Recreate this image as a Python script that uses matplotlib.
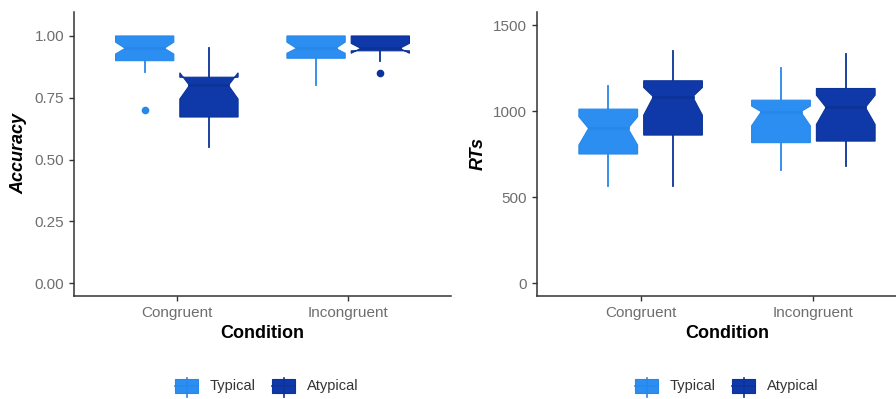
import numpy as np
import matplotlib.pyplot as plt
from matplotlib.patches import Polygon, Rectangle

plt.rcParams['font.family'] = ['Liberation Sans', 'DejaVu Sans']

conditions = ['Congruent', 'Incongruent']
groups = ['Typical', 'Atypical']
fills = ['#2b8ef0', '#0f39a8']
edges = ['#2788ea', '#0c3399']

# accuracy: per group, per condition
acc_q1 = {'Typical': [0.90, 0.91], 'Atypical': [0.672, 0.94]}
acc_med = {'Typical': [0.95, 0.95], 'Atypical': [0.80, 0.95]}
acc_q3 = {'Typical': [1.00, 1.00], 'Atypical': [0.833, 1.00]}
acc_nlo = {'Typical': [0.927, 0.93], 'Atypical': [0.745, 0.93]}
acc_nhi = {'Typical': [0.975, 0.975], 'Atypical': [0.851, 0.97]}
acc_wlo = {'Typical': [0.855, 0.80], 'Atypical': [0.552, 0.90]}
acc_whi = {'Typical': [1.00, 1.00], 'Atypical': [0.95, 1.00]}
acc_out = {'Typical': [[0.70], []], 'Atypical': [[], [0.85]]}

# reaction times
rt_q1 = {'Typical': [751, 817], 'Atypical': [861, 826]}
rt_med = {'Typical': [900, 997], 'Atypical': [1084, 1022]}
rt_q3 = {'Typical': [1012, 1064], 'Atypical': [1177, 1132]}
rt_nlo = {'Typical': [803, 915], 'Atypical': [977, 923]}
rt_nhi = {'Typical': [968, 1030], 'Atypical': [1138, 1093]}
rt_wlo = {'Typical': [565, 658], 'Atypical': [565, 683]}
rt_whi = {'Typical': [1146, 1254], 'Atypical': [1349, 1330]}
rt_out = {'Typical': [[], []], 'Atypical': [[], []]}

W, H = 896, 399
fig = plt.figure(figsize=(W / 100, H / 100), dpi=100)

box_w = 0.34
notchwidth = 0.67


def notched_boxes(ax, q1, med, q3, nlo, nhi, wlo, whi, outl):
    for gi, g in enumerate(groups):
        for ci in range(len(conditions)):
            xc = ci + 1 + (gi - 0.5) * 0.375
            x0, x1 = xc - box_w / 2, xc + box_w / 2
            ind = (1 - notchwidth) * box_w / 2
            # whiskers
            ax.plot([xc, xc], [q3[g][ci], whi[g][ci]], color=edges[gi], lw=1.3, zorder=2)
            ax.plot([xc, xc], [wlo[g][ci], q1[g][ci]], color=edges[gi], lw=1.3, zorder=2)
            pts = [(x0, q3[g][ci]), (x0, nhi[g][ci]), (x0 + ind, med[g][ci]),
                   (x0, nlo[g][ci]), (x0, q1[g][ci]), (x1, q1[g][ci]),
                   (x1, nlo[g][ci]), (x1 - ind, med[g][ci]), (x1, nhi[g][ci]),
                   (x1, q3[g][ci])]
            ax.add_patch(Polygon(pts, closed=True, facecolor=fills[gi],
                                 edgecolor=edges[gi], lw=0.8, zorder=3))
            ax.plot([x0 + ind, x1 - ind], [med[g][ci]] * 2, color=edges[gi],
                    lw=2.0, zorder=4)
            for o in outl[g][ci]:
                ax.plot(xc, o, 'o', color=edges[gi], ms=5.5, mec='none', zorder=4)


def style(ax, ylabel, yticks, ylabels, ylim):
    ax.set_xlim(0.4, 2.6)
    ax.set_ylim(*ylim)
    ax.set_xticks([1, 2])
    ax.set_xticklabels(conditions)
    ax.set_yticks(yticks)
    ax.set_yticklabels(ylabels)
    for s in ['top', 'right']:
        ax.spines[s].set_visible(False)
    for s in ['left', 'bottom']:
        ax.spines[s].set_color('#333333')
        ax.spines[s].set_linewidth(1.1)
    ax.tick_params(colors='#333333', length=3.5, width=1.0, labelsize=11,
                   labelcolor='#6e6e6e')
    ax.set_xlabel('Condition', fontsize=13, fontweight='bold', labelpad=4)
    ax.set_ylabel(ylabel, fontsize=13, fontweight='bold', style='italic', labelpad=5)


top, bottom = 12, 296
ax1 = fig.add_axes([74 / W, (H - bottom) / H, 377 / W, (bottom - top) / H])
notched_boxes(ax1, acc_q1, acc_med, acc_q3, acc_nlo, acc_nhi, acc_wlo, acc_whi, acc_out)
style(ax1, 'Accuracy', [0, 0.25, 0.5, 0.75, 1.0],
      ['0.00', '0.25', '0.50', '0.75', '1.00'], (-0.0523, 1.097))

ax2 = fig.add_axes([537 / W, (H - bottom) / H, 380 / W, (bottom - top) / H])
notched_boxes(ax2, rt_q1, rt_med, rt_q3, rt_nlo, rt_nhi, rt_wlo, rt_whi, rt_out)
style(ax2, 'RTs', [0, 500, 1000, 1500], ['0', '500', '1000', '1500'], (-75, 1577))


# legend rows under each panel, in pixel units
def legend_row(x_start):
    lax = fig.add_axes([0, 0, 1, 1], zorder=-1)
    lax.set_xlim(0, W)
    lax.set_ylim(H, 0)
    lax.axis('off')
    x = x_start
    yc = 386
    for gi, g in enumerate(groups):
        lax.plot([x + 11.5, x + 11.5], [378, 397], color=edges[gi], lw=1.2)
        lax.add_patch(Rectangle((x, yc - 7), 23, 14, facecolor=fills[gi],
                                edgecolor=edges[gi], lw=0.8))
        lax.plot([x, x + 23], [yc, yc], color=edges[gi], lw=1.2)
        lax.text(x + 35, yc, g, fontsize=10.5, color='#333333', va='center', ha='left')
        x += 97


legend_row(175)
legend_row(635)

fig.savefig('out.png', dpi=100)
